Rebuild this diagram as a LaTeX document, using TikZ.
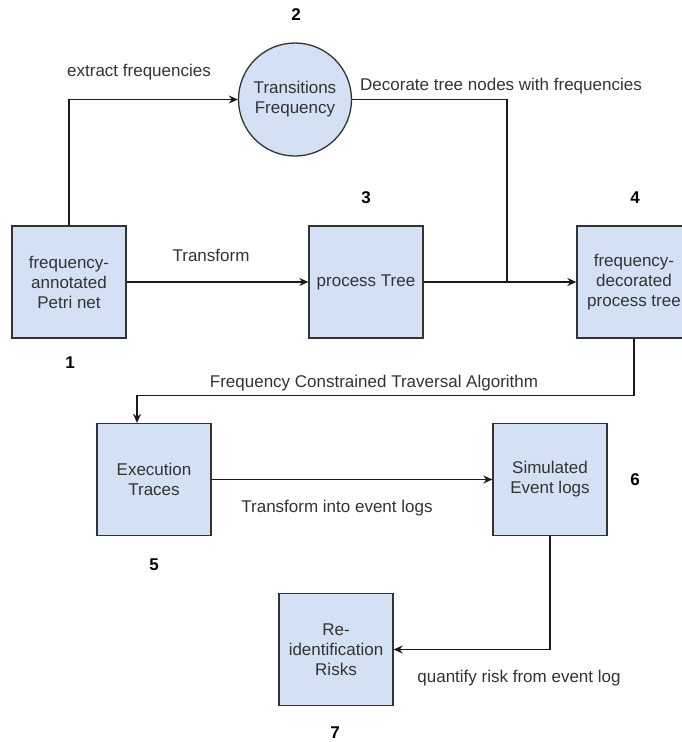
\documentclass[tikz,border=0pt]{standalone}
\usepackage{fontspec}
\setmainfont{Liberation Sans}
\usetikzlibrary{arrows.meta}
\definecolor{boxfill}{HTML}{D4E1F5}
\definecolor{inkgray}{HTML}{333333}
\definecolor{wire}{HTML}{1A1A1A}
\begin{document}
\begin{tikzpicture}[x=1pt,y=-1pt,
  every node/.style={font=\fontsize{17}{20}\selectfont, text=inkgray},
  stage/.style={draw=inkgray, fill=boxfill, line width=1.3pt, minimum width=114pt,
    minimum height=112pt, align=center, inner sep=2pt},
  hub/.style={circle, draw=inkgray, fill=boxfill, line width=1.3pt, minimum size=113pt,
    align=center, inner sep=0pt},
  tag/.style={font=\fontsize{17}{20}\selectfont\bfseries, text=black},
  note/.style={inner sep=0pt},
  flow/.style={draw=wire, line width=1.3pt, -{Stealth[length=9pt,width=8pt]}},
  link/.style={draw=wire, line width=1.3pt}]
\useasboundingbox (0,0) rectangle (681,742);

% stages
\node[stage] (b1) at (69,282) {frequency-\\annotated\\Petri net};
\node[hub]   (c2) at (295,99.5) {Transitions\\Frequency};
\node[stage] (b3) at (366,282) {process Tree};
\node[stage] (b4) at (634,282) {frequency-\\decorated\\process tree};
\node[stage] (b5) at (154,479.5) {Execution\\Traces};
\node[stage] (b6) at (550,479.5) {Simulated\\Event logs};
\node[stage] (b7) at (336,649.5) {Re-\\identification\\Risks};

% step numbers
\node[tag] (t1) at (70,363) {1};
\node[tag] (t2) at (296,15) {2};
\node[tag] (t3) at (366,198) {3};
\node[tag] (t4) at (635,198) {4};
\node[tag] (t5) at (154,565) {5};
\node[tag] (t6) at (635,480) {6};
\node[tag] (t7) at (335,733) {7};

% edge labels
\node[note] (l1) at (139,72) {extract frequencies};
\node[note] (l2) at (501,86) {Decorate tree nodes with frequencies};
\node[note] (l3) at (211,255) {Transform};
\node[note] (l4) at (374,383) {Frequency Constrained Traversal Algorithm};
\node[note] (l5) at (337,508) {Transform into event logs};
\node[note] (l6) at (519,678) {quantify risk from event log};

% connectors
\coordinate (join) at (507,282);
\draw[flow] (b1.north) |- (c2.west);
\draw[link] (c2.east) -| (join);
\draw[flow] (b1.east) -- (b3.west);
\draw[flow] (b3.east) -- (b4.west);
\draw[flow] (b4.south) -- ++(0,57) -| ([xshift=-17pt]b5.north);
\draw[flow] (b5.east) -- (b6.west);
\draw[flow] (b6.south) |- (b7.east);
\end{tikzpicture}
\end{document}
